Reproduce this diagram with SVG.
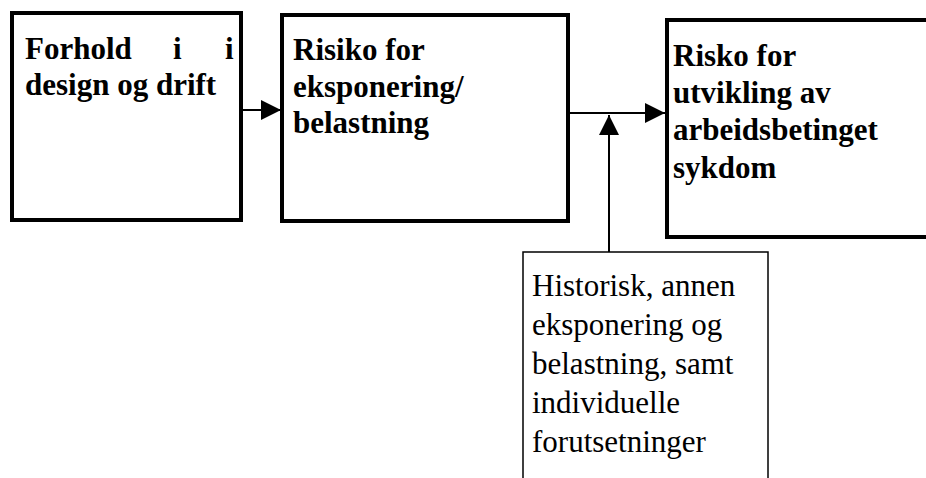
<svg xmlns="http://www.w3.org/2000/svg" width="926" height="478" viewBox="0 0 926 478">
<style>
.box{fill:#fff;stroke:#000;stroke-width:4}
.thin{fill:#fff;stroke:#000;stroke-width:1.5}
.b{font-family:"Liberation Serif","Times New Roman",serif;font-weight:bold;font-size:31px;fill:#000}
.r{font-family:"Liberation Serif","Times New Roman",serif;font-size:31px;fill:#000}
.c{stroke:#000;stroke-width:2;fill:none}
</style>
<defs>
<marker id="ah" viewBox="0 0 20 20" refX="20" refY="10" markerWidth="20" markerHeight="20" markerUnits="userSpaceOnUse" orient="auto">
<path d="M0,0 L20,10 L0,20 Z" fill="#000"/>
</marker>
</defs>
<g id="node1">
<rect class="box" x="12" y="13" width="229" height="207"/>
<text class="b" x="25" y="59">Forhold</text>
<text class="b" x="173" y="59">i</text>
<text class="b" x="225" y="59">i</text>
<text class="b" x="25" y="95">design og drift</text>
</g>
<g id="node2">
<rect class="box" x="282" y="15" width="286" height="206"/>
<text class="b" x="293" y="60">Risiko for</text>
<text class="b" x="293" y="97">eksponering/</text>
<text class="b" x="293" y="133">belastning</text>
</g>
<g id="node3">
<rect class="box" x="667" y="20" width="300" height="217"/>
<text class="b" x="673" y="66">Risko for</text>
<text class="b" x="673" y="103">utvikling av</text>
<text class="b" x="673" y="140">arbeidsbetinget</text>
<text class="b" x="673" y="178">sykdom</text>
</g>
<g id="node4">
<rect class="thin" x="523" y="252" width="245" height="240"/>
<text class="r" x="532" y="296">Historisk, annen</text>
<text class="r" x="532" y="335">eksponering og</text>
<text class="r" x="532" y="374">belastning, samt</text>
<text class="r" x="532" y="413">individuelle</text>
<text class="r" x="532" y="452">forutsetninger</text>
</g>
<g id="connectors">
<line class="c" x1="243" y1="110" x2="281" y2="110" marker-end="url(#ah)"/>
<line class="c" x1="570" y1="113" x2="665" y2="113" marker-end="url(#ah)"/>
<line class="c" x1="609" y1="252" x2="609" y2="115" marker-end="url(#ah)"/>
</g>
</svg>
